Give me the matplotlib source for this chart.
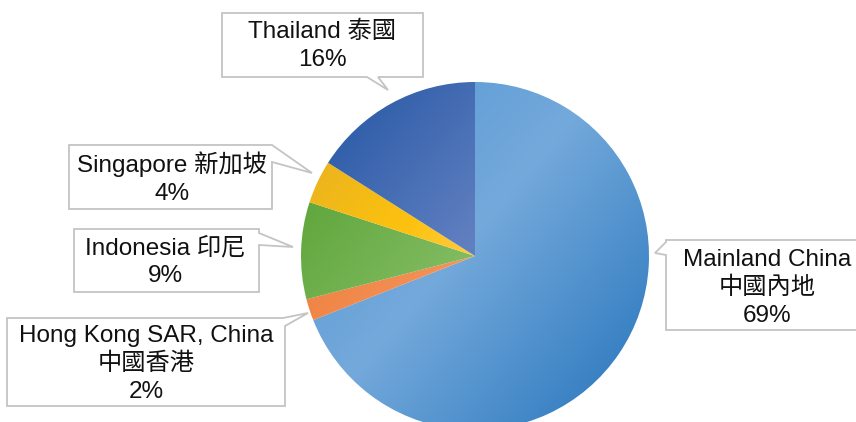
import numpy as np
import matplotlib.pyplot as plt
from matplotlib.patches import Polygon
from matplotlib.colors import to_rgb

# share of total, clockwise from 12 o'clock
regions = ['Mainland China', 'Hong Kong SAR, China', 'Indonesia', 'Singapore', 'Thailand']
shares = [69, 2, 9, 4, 16]
labels = ['Mainland China\n中國內地\n69%',
          'Hong Kong SAR, China\n中國香港\n2%',
          'Indonesia 印尼\n9%',
          'Singapore 新加坡\n4%',
          'Thailand 泰國\n16%']

# gradient stops per slice (t along the diagonal, -1..1 of radius)
grads = [
    [(-1.0, '#5b9bd5'), (-0.1, '#74a9db'), (1.0, '#3a82c4')],
    [(-1.0, '#ec7a36'), (0.0, '#f4935a'), (1.0, '#f4935a')],
    [(-1.0, '#5fa53b'), (0.0, '#82bc62'), (1.0, '#82bc62')],
    [(-1.0, '#ecb51c'), (-0.4, '#fdc20f'), (0.0, '#ffcb45'), (1.0, '#ffcb45')],
    [(-1.0, '#3360ab'), (0.0, '#6482c2'), (1.0, '#6482c2')],
]

W, H = 856, 422
cx, cy, r = 475, 256, 174

plt.rcParams['font.family'] = ['Liberation Sans', 'Noto Sans CJK TC']

fig = plt.figure(figsize=(W / 100, H / 100), dpi=100)
ax = fig.add_axes([0, 0, 1, 1])

wedges, _ = ax.pie(shares, startangle=-90, counterclock=True, center=(cx, cy),
                   radius=r, colors=['none'] * 5, wedgeprops=dict(linewidth=0))
ax.set_xlim(0, W)
ax.set_ylim(H, 0)
ax.set_aspect('equal')
ax.axis('off')

# gradient fill clipped to each wedge
xs = np.linspace(cx - r, cx + r, 400)
ys = np.linspace(cy - r, cy + r, 400)
gx, gy = np.meshgrid(xs, ys)
t = ((gx - cx) * 0.76 + (gy - cy) * 0.65) / r
for w, stops in zip(wedges, grads):
    pos = [s[0] for s in stops]
    cols = np.array([to_rgb(s[1]) for s in stops])
    img = np.zeros(t.shape + (3,))
    for k in range(3):
        img[..., k] = np.interp(t, pos, cols[:, k])
    im = ax.imshow(img, extent=(cx - r, cx + r, cy + r, cy - r), origin='upper',
                   interpolation='bilinear', zorder=2)
    im.set_clip_path(w)

# callout boxes with tails (pixel coords)
callouts = [
    ([(666, 240), (870, 240), (870, 330), (666, 330), (666, 255), (655, 253), (666, 242)], (767, 288)),
    ([(7, 318), (283, 318), (308, 313), (285, 326), (285, 406), (7, 406)], (146, 364)),
    ([(74, 229), (259, 229), (259, 233), (293, 247), (259, 245), (259, 292), (74, 292)], (165, 262)),
    ([(69, 145), (272, 145), (312, 173), (272, 162), (272, 209), (69, 209)], (172, 178)),
    ([(222, 13), (423, 13), (423, 77), (378, 77), (388, 90), (367, 77), (222, 77)], (322, 46)),
]
for (pts, (tx, ty)), lab in zip(callouts, labels):
    ax.add_patch(Polygon(pts, closed=True, facecolor='white', edgecolor='#c4c4c4',
                         linewidth=1.3, zorder=3, clip_on=False))
    ax.text(tx, ty, lab, ha='center', va='center', fontsize=17.5, color='#111111',
            linespacing=1.33, zorder=4)

fig.savefig('out.png', dpi=100)
